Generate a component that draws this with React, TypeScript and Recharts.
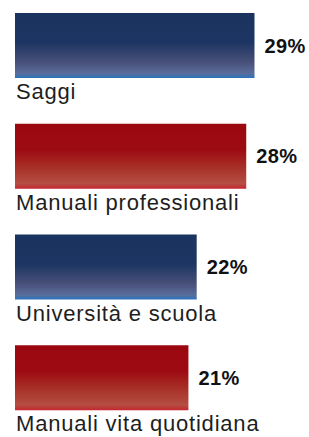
import { BarChart, Bar, XAxis, YAxis, Cell, LabelList } from "recharts";

const categories = [
  "Saggi",
  "Manuali professionali",
  "Università e scuola",
  "Manuali vita quotidiana",
];
const shares = [29, 28, 22, 21];
const fills = ["url(#gradBlue)", "url(#gradRed)", "url(#gradBlue)", "url(#gradRed)"];

const chartData = categories.map((name, i) => ({ name, value: shares[i] }));

const FONT = "'Liberation Sans', Arial, Helvetica, sans-serif";

// category name written under the bar, left aligned with it
const NameLabel = (props: any) => {
  const { x, y, height, value } = props;
  return (
    <text
      x={Number(x) + 1}
      y={Number(y) + Number(height) + 21}
      fontSize={22}
      letterSpacing={0.8}
      fontFamily={FONT}
      fill="#1e1e1e"
    >
      {value}
    </text>
  );
};

const App = () => {
  return (
    <div style={{ position: "absolute", left: 0, top: 0, background: "#fff" }}>
      <BarChart
        width={309}
        height={437}
        data={chartData}
        layout="vertical"
        margin={{ top: -10, right: 0, left: 15, bottom: 4 }}
      >
        <defs>
          <linearGradient id="gradBlue" x1="0" y1="0" x2="0" y2="1">
            <stop offset="0%" stopColor="#1a335f" />
            <stop offset="45%" stopColor="#1c3562" />
            <stop offset="75%" stopColor="#474f78" />
            <stop offset="93%" stopColor="#5a6d9b" />
            <stop offset="100%" stopColor="#2874bb" />
          </linearGradient>
          <linearGradient id="gradRed" x1="0" y1="0" x2="0" y2="1">
            <stop offset="0%" stopColor="#9b070f" />
            <stop offset="40%" stopColor="#9d0b12" />
            <stop offset="70%" stopColor="#a8342a" />
            <stop offset="92%" stopColor="#b54e44" />
            <stop offset="100%" stopColor="#c4262f" />
          </linearGradient>
        </defs>
        <XAxis type="number" domain={[0, 35.6]} hide />
        <YAxis type="category" dataKey="name" hide />
        <Bar dataKey="value" barSize={65} isAnimationActive={false}>
          {chartData.map((d, i) => (
            <Cell key={d.name} fill={fills[i]} />
          ))}
          <LabelList
            dataKey="value"
            position="right"
            offset={10}
            formatter={(v: any) => `${v}%`}
            style={{
              fontFamily: FONT,
              fontSize: 20,
              fontWeight: 700,
              fill: "#111",
              letterSpacing: 0.4,
            }}
          />
          <LabelList dataKey="name" content={<NameLabel />} />
        </Bar>
      </BarChart>
    </div>
  );
};

export default App;
